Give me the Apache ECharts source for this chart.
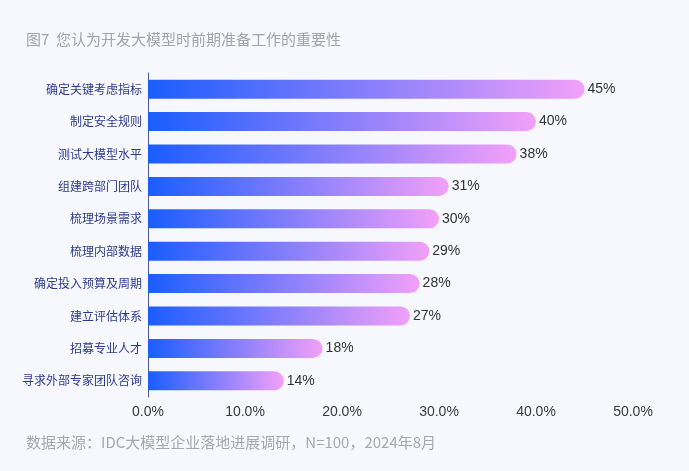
<!DOCTYPE html>
<html><head><meta charset="utf-8">
<script src="https://cdn.jsdelivr.net/npm/echarts@6/dist/echarts.min.js"></script>
<style>html,body{margin:0;padding:0;background:#f7f8fd;}#c{width:689px;height:471px;}</style>
</head><body><div id="c"></div>
<script>
const categories = ['确定关键考虑指标','制定安全规则','测试大模型水平','组建跨部门团队','梳理场景需求','梳理内部数据','确定投入预算及周期','建立评估体系','招募专业人才','寻求外部专家团队咨询'];
const values = [45,40,38,31,30,29,28,27,18,14];
const xTicks = [0,10,20,30,40,50];
const titleText = '图7  您认为开发大模型时前期准备工作的重要性';
const sourceText = '数据来源：IDC大模型企业落地进展调研，N=100，2024年8月';
const font = '"Noto Sans CJK SC","Noto Sans",sans-serif';
const numFont = '"Liberation Sans","Noto Sans CJK SC",sans-serif';
const chart = echarts.init(document.getElementById('c'));
chart.setOption({
  backgroundColor:'#f7f8fd',
  title:[
    {text:titleText,left:21,top:27,textStyle:{fontSize:15,fontWeight:'normal',color:'#a3a3a8',fontFamily:font}},
    {text:sourceText,left:21,top:430,textStyle:{fontSize:15,fontWeight:'normal',color:'#a8a8ac',fontFamily:font}}
  ],
  grid:{left:148,right:56,top:73,height:324,containLabel:false},
  xAxis:{type:'value',min:0,max:50,interval:10,
    axisLine:{show:false},axisTick:{show:false},splitLine:{show:false},
    axisLabel:{formatter:v=>v.toFixed(1)+'%',color:'#3a3a3a',fontSize:14,margin:8,fontFamily:numFont}},
  yAxis:{type:'category',data:categories,inverse:true,
    axisLine:{show:true,lineStyle:{color:'#4a5a9a',width:1}},axisTick:{show:false},
    axisLabel:{color:'#2c3a8c',fontSize:12,margin:6,fontFamily:font}},
  series:[{type:'bar',data:values,barWidth:19,
    itemStyle:{borderRadius:[0,10,10,0],
      color:new echarts.graphic.LinearGradient(0,0,1,0,[{offset:0,color:'#1a5dff'},{offset:1,color:'#f2a0f8'}])},
    label:{show:true,position:'right',formatter:p=>p.value+'%',color:'#333',fontSize:14,distance:3,fontFamily:numFont}
  }]
});
</script></body></html>
